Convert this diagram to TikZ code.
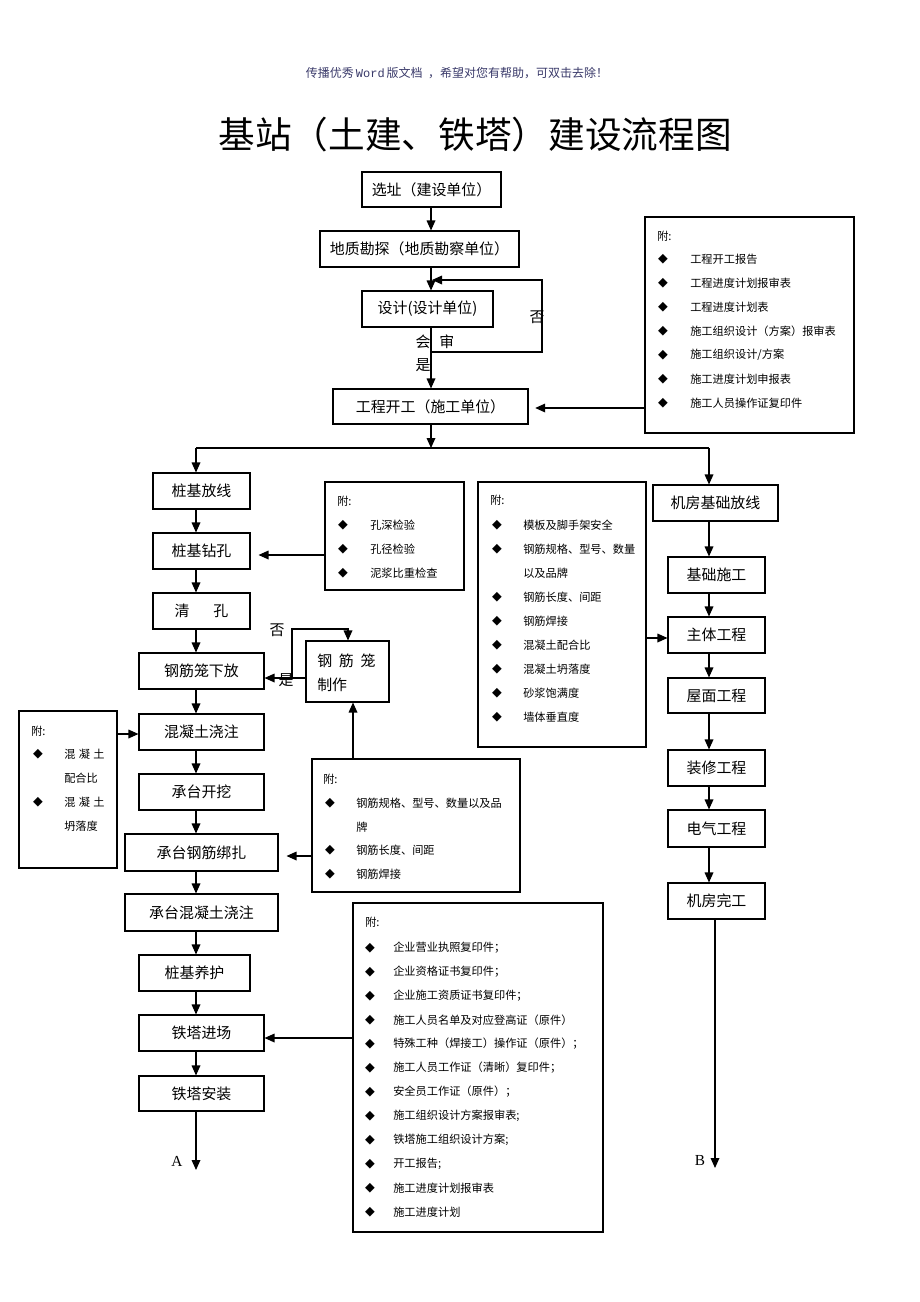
\documentclass[tikz,border=0pt]{standalone}
\usepackage{fontspec}
\setmainfont{Liberation Serif}
\newfontfamily\cjk{Noto Sans CJK SC}
\newfontfamily\symf{DejaVu Sans}
\newfontfamily\monof{Liberation Mono}
\usetikzlibrary{arrows.meta,fit}
\definecolor{headc}{HTML}{3A3A6A}
\newcommand\bx[6]{%
  \coordinate (#1-a) at (#2,#3);
  \coordinate (#1-b) at (#4,#5);
  \node[box, fit=(#1-a)(#1-b)] (#1) {};
  \node (#1-t) at (#1.center) {#6};}
\begin{document}
\begin{tikzpicture}[x=0.75pt,y=-0.75pt,
  font=\cjk\fontsize{11.2}{13}\selectfont,
  box/.style={draw, line width=0.8pt, inner sep=0pt},
  arr/.style={line width=0.9pt, -{Triangle[length=7.5pt,width=6.5pt]}},
  ln/.style={line width=0.9pt},
  sm/.style={font=\cjk\fontsize{8.4}{10}\selectfont, anchor=west, inner sep=0pt},
  dm/.style={font=\symf\fontsize{9.5}{10}\selectfont, inner sep=0pt}]
\path[use as bounding box, fill=white] (0,0) rectangle (920,1302);

% header and title
\node[font=\cjk\fontsize{9}{10}\selectfont, text=headc] (hdr) at (457,73) {传播优秀\,{\monof Word}\,版文档\ \ ，希望对您有帮助，可双击去除！};
\node[font=\cjk\fontsize{27.5}{30}\selectfont] (title) at (475,135) {基站（土建、铁塔）建设流程图};

% top chain
\bx{s1}{362}{172}{501}{207}{选址（建设单位）}
\bx{s2}{320}{231}{519}{267}{地质勘探（地质勘察单位）}
\bx{s3}{362}{291}{493}{327}{设计(设计单位)}
\bx{s4}{333}{389}{528}{424}{工程开工（施工单位）}
\coordinate (cx) at (431,0);
\draw[arr] (cx |- s1.south) -- (cx |- s2.north);
\draw[arr] (cx |- s2.south) -- (cx |- s3.north);
\draw[arr] (cx |- s3.south) -- (cx |- s4.north);
\coordinate (l1) at (431,352);
\coordinate (l2) at (542,352);
\coordinate (l3) at (542,280);
\coordinate (l4) at (432,280);
\draw[arr] (l1) -- (l2) -- (l3) -- (l4);
\node (lno) at (537,317) {否};
\node (lhs) at (435,342) {会\hspace{0.6em}审};
\node (lyes) at (423,365) {是};

% right top attachment
\bx{n1}{645}{217}{854}{433}{}
\node[sm] (n1-h) at (657,236) {附:};
\foreach \t [count=\k from 0] in {工程开工报告,工程进度计划报审表,工程进度计划表,施工组织设计（方案）报审表,施工组织设计/方案,施工进度计划申报表,施工人员操作证复印件}{
  \node[dm] (n1-d\k) at (663,259+24*\k) {◆};
  \node[sm] (n1-\k) at (690,259+24*\k) {\t};
}
\coordinate (a1) at (645,408);
\draw[arr, shorten >=5pt] (a1) -- (a1 -| s4.east);

% branch
\coordinate (br) at (431,448);
\coordinate (lx) at (196,448);
\coordinate (rx) at (709,448);
\draw[arr] (cx |- s4.south) -- (br);
\draw[ln] (lx) -- (rx);

% left column
\bx{L1}{153}{473}{250}{509}{桩基放线}
\bx{L2}{153}{533}{250}{569}{桩基钻孔}
\bx{L3}{153}{593}{250}{629}{清\hspace{1.6em}孔}
\bx{L4}{139}{653}{264}{689}{钢筋笼下放}
\bx{L5}{139}{714}{264}{750}{混凝土浇注}
\bx{L6}{139}{774}{264}{810}{承台开挖}
\bx{L7}{125}{834}{278}{871}{承台钢筋绑扎}
\bx{L8}{125}{894}{278}{931}{承台混凝土浇注}
\bx{L9}{139}{955}{250}{991}{桩基养护}
\bx{L10}{139}{1015}{264}{1051}{铁塔进场}
\bx{L11}{139}{1076}{264}{1111}{铁塔安装}
\draw[arr] (lx) -- (lx |- L1.north);
\foreach \a/\b in {L1/L2,L2/L3,L3/L4,L4/L5,L5/L6,L6/L7,L7/L8,L8/L9,L9/L10,L10/L11}
  \draw[arr] (lx |- \a.south) -- (lx |- \b.north);
\coordinate (Aend) at (196,1170);
\draw[arr] (lx |- L11.south) -- (Aend);
\node[font=\rmfamily\fontsize{11.5}{13}\selectfont] (Alab) at (177,1161) {A};

% right column
\bx{R1}{653}{485}{778}{521}{机房基础放线}
\bx{R2}{668}{557}{765}{593}{基础施工}
\bx{R3}{668}{617}{765}{653}{主体工程}
\bx{R4}{668}{678}{765}{713}{屋面工程}
\bx{R5}{668}{750}{765}{786}{装修工程}
\bx{R6}{668}{810}{765}{847}{电气工程}
\bx{R7}{668}{883}{765}{919}{机房完工}
\draw[arr] (rx) -- (rx |- R1.north);
\foreach \a/\b in {R1/R2,R2/R3,R3/R4,R4/R5,R5/R6,R6/R7}
  \draw[arr] (rx |- \a.south) -- (rx |- \b.north);
\coordinate (rx2) at (715,0);
\coordinate (Bend) at (715,1168);
\draw[arr] (rx2 |- R7.south) -- (Bend);
\node[font=\rmfamily\fontsize{11.5}{13}\selectfont] (Blab) at (700,1160) {B};

% 孔深 box
\bx{n2}{325}{482}{464}{590}{}
\node[sm] (n2-h) at (337,501) {附:};
\foreach \t [count=\k from 0] in {孔深检验,孔径检验,泥浆比重检查}{
  \node[dm] (n2-d\k) at (343,525+24*\k) {◆};
  \node[sm] (n2-\k) at (370,525+24*\k) {\t};
}
\coordinate (a2) at (325,555);
\draw[arr, shorten >=6pt] (a2) -- (a2 -| L2.east);

% 模板 box
\bx{n3}{478}{482}{646}{747}{}
\node[sm] (n3-h) at (490,500) {附:};
\foreach \t/\yy in {模板及脚手架安全/525,钢筋规格、型号、数量/549,钢筋长度、间距/597,钢筋焊接/621,混凝土配合比/645,混凝土坍落度/669,砂浆饱满度/693,墙体垂直度/717}{
  \node[dm] (n3-d\yy) at (497,\yy) {◆};
  \node[sm] (n3-\yy) at (523,\yy) {\t};
}
\node[sm] (n3-x) at (523,573) {以及品牌};
\coordinate (a3) at (646,638);
\draw[arr] (a3) -- (a3 -| R3.west);

% 混凝土 box (left)
\bx{n4}{19}{711}{117}{868}{}
\node[sm] (n4-h) at (31,731) {附:};
\node[dm] (n4-d1) at (38,754) {◆};
\node[sm] (n4-1) at (64,754) {混\hspace{0.3em}凝\hspace{0.3em}土};
\node[sm] (n4-2) at (64,778) {配合比};
\node[dm] (n4-d3) at (38,802) {◆};
\node[sm] (n4-3) at (64,802) {混\hspace{0.3em}凝\hspace{0.3em}土};
\node[sm] (n4-4) at (64,826) {坍落度};
\coordinate (a4) at (117,734);
\draw[arr] (a4) -- (a4 -| L5.west);

% 钢筋笼制作
\bx{G}{306}{641}{389}{702}{}
\node[anchor=west, inner sep=0pt] (G-t1) at (317,661) {钢\hspace{0.45em}筋\hspace{0.45em}笼};
\node[anchor=west, inner sep=0pt] (G-t2) at (317,685) {制作};
\coordinate (g1) at (306,678);
\draw[arr] (g1) -- (g1 -| L4.east);
\coordinate (g2) at (292,678);
\coordinate (g3) at (292,629);
\coordinate (g4) at (348,629);
\draw[arr] (g2) -- (g3) -- (g4) -- (g4 |- G.north);
\node (gno) at (277,630) {否};
\node (gyes) at (286,680) {是};

% 钢筋规格 box
\bx{n5}{312}{759}{520}{892}{}
\node[sm] (n5-h) at (323,779) {附:};
\node[dm] (n5-d1) at (330,803) {◆};
\node[sm] (n5-1) at (356,803) {钢筋规格、型号、数量以及品};
\node[sm] (n5-2) at (356,827) {牌};
\node[dm] (n5-d3) at (330,850) {◆};
\node[sm] (n5-3) at (356,850) {钢筋长度、间距};
\node[dm] (n5-d4) at (330,874) {◆};
\node[sm] (n5-4) at (356,874) {钢筋焊接};
\coordinate (a5) at (312,856);
\draw[arr, shorten >=6pt] (a5) -- (a5 -| L7.east);
\coordinate (a7) at (353,759);
\draw[arr] (a7) -- (a7 |- G.south);

% 企业 box
\bx{n6}{353}{903}{603}{1232}{}
\node[sm] (n6-h) at (365,922) {附:};
\foreach \t [count=\k from 0] in {企业营业执照复印件；,企业资格证书复印件；,企业施工资质证书复印件；,施工人员名单及对应登高证（原件）,特殊工种（焊接工）操作证（原件）；,施工人员工作证（清晰）复印件；,安全员工作证（原件）；,施工组织设计方案报审表;,铁塔施工组织设计方案;,开工报告;,施工进度计划报审表,施工进度计划}{
  \node[dm] (n6-d\k) at (370,948+24*\k) {◆};
  \node[sm] (n6-\k) at (393,948+24*\k) {\t};
}
\coordinate (a6) at (353,1038);
\draw[arr] (a6) -- (a6 -| L10.east);
\end{tikzpicture}
\end{document}
